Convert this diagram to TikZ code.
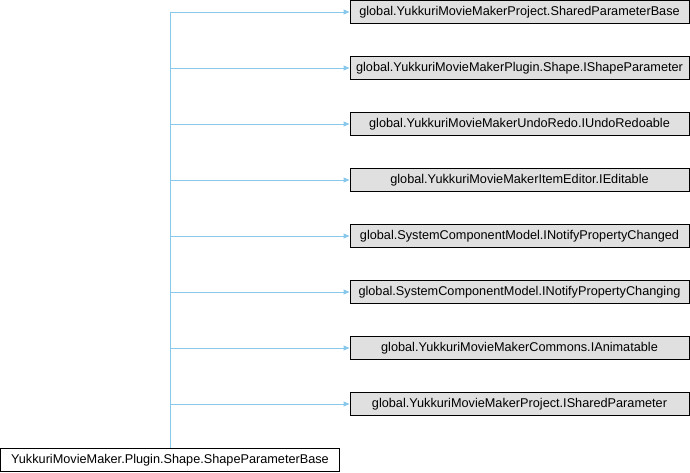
\documentclass[tikz,border=0pt]{standalone}
\usepackage{fontspec}
\setmainfont{Liberation Sans}
\usetikzlibrary{arrows.meta}
\definecolor{edgeblue}{RGB}{135,200,235}
\definecolor{boxgray}{RGB}{224,224,224}
\tikzset{
  base/.style={draw=black, line width=1pt, fill=boxgray, minimum width=339pt, minimum height=23pt, inner sep=0pt, font=\fontsize{12.7}{14}\selectfont},
  derived/.style={base, fill=white},
  edge/.style={draw=edgeblue, line width=1pt},
  inh/.style={edge, -{Triangle[length=6pt,width=5pt]}},
}
\begin{document}
\begin{tikzpicture}[x=1pt,y=-1pt]
\useasboundingbox (0,0) rectangle (690,472);
\node[base] (b1) at (519.5,12) {global.YukkuriMovieMakerProject.SharedParameterBase};
\node[base] (b2) at (519.5,68) {global.YukkuriMovieMakerPlugin.Shape.IShapeParameter};
\node[base] (b3) at (519.5,124) {global.YukkuriMovieMakerUndoRedo.IUndoRedoable};
\node[base] (b4) at (519.5,180) {global.YukkuriMovieMakerItemEditor.IEditable};
\node[base] (b5) at (519.5,236) {global.SystemComponentModel.INotifyPropertyChanged};
\node[base] (b6) at (519.5,292) {global.SystemComponentModel.INotifyPropertyChanging};
\node[base] (b7) at (519.5,348) {global.YukkuriMovieMakerCommons.IAnimatable};
\node[base] (b8) at (519.5,404) {global.YukkuriMovieMakerProject.ISharedParameter};
\node[derived] (d) at (170,459.75) {YukkuriMovieMaker.Plugin.Shape.ShapeParameterBase};
\foreach \i in {1,...,8} {
  \coordinate (j\i) at (d.north |- b\i.west);
}
\draw[edge] (d.north) -- (j1);
\foreach \i in {1,...,8} {
  \draw[inh] (j\i) -- (b\i.west);
}
\end{tikzpicture}
\end{document}
